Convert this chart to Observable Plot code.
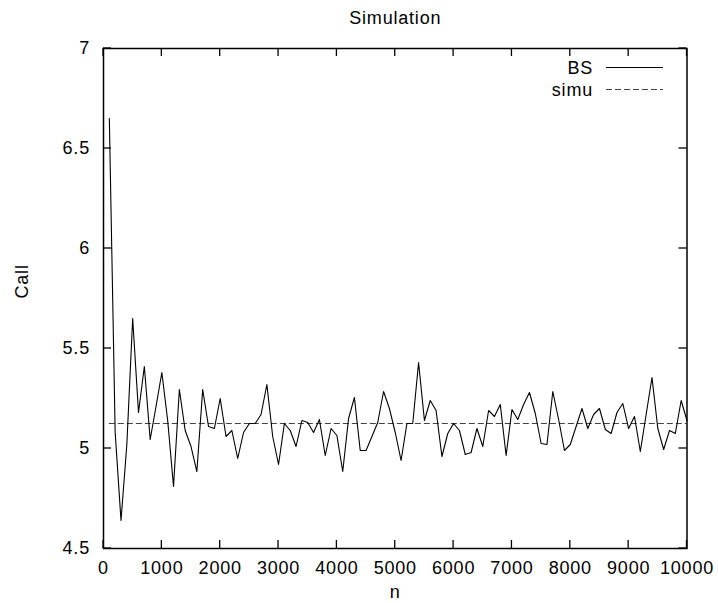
<!DOCTYPE html>
<html>
<head>
<meta charset="utf-8">
<script src="https://cdn.jsdelivr.net/npm/d3@7"></script>
<script src="https://cdn.jsdelivr.net/npm/@observablehq/plot@0.6"></script>
<style>
  html, body { margin: 0; padding: 0; background: white; }
  svg text { letter-spacing: 0.8px; }
</style>
</head>
<body>
<div id="chart"></div>
<script>
const titleText = "Simulation";
const xLabel = "n";
const yLabel = "Call";
const seriesNames = ["BS", "simu"];

const nValues = [
  100, 200, 300, 400, 500, 600, 700, 800, 900, 1000,
  1100, 1200, 1300, 1400, 1500, 1600, 1700, 1800, 1900, 2000,
  2100, 2200, 2300, 2400, 2500, 2600, 2700, 2800, 2900, 3000,
  3100, 3200, 3300, 3400, 3500, 3600, 3700, 3800, 3900, 4000,
  4100, 4200, 4300, 4400, 4500, 4600, 4700, 4800, 4900, 5000,
  5100, 5200, 5300, 5400, 5500, 5600, 5700, 5800, 5900, 6000,
  6100, 6200, 6300, 6400, 6500, 6600, 6700, 6800, 6900, 7000,
  7100, 7200, 7300, 7400, 7500, 7600, 7700, 7800, 7900, 8000,
  8100, 8200, 8300, 8400, 8500, 8600, 8700, 8800, 8900, 9000,
  9100, 9200, 9300, 9400, 9500, 9600, 9700, 9800, 9900, 10000
];

const bsValues = [
  6.65, 5.08, 4.64, 5.02, 5.65, 5.18, 5.41, 5.045, 5.21, 5.38,
  5.14, 4.81, 5.295, 5.09, 5.01, 4.885, 5.295, 5.11, 5.10, 5.25,
  5.06, 5.09, 4.95, 5.08, 5.125, 5.125, 5.17, 5.32, 5.06, 4.92,
  5.125, 5.09, 5.01, 5.14, 5.13, 5.08, 5.145, 4.965, 5.10, 5.065,
  4.885, 5.15, 5.255, 4.99, 4.99, 5.06, 5.13, 5.285, 5.20, 5.08,
  4.94, 5.125, 5.125, 5.43, 5.14, 5.24, 5.19, 4.96, 5.075, 5.125,
  5.09, 4.97, 4.98, 5.10, 5.01, 5.19, 5.16, 5.22, 4.965, 5.195,
  5.145, 5.22, 5.28, 5.175, 5.025, 5.02, 5.285, 5.145, 4.99, 5.02,
  5.11, 5.20, 5.10, 5.17, 5.20, 5.095, 5.075, 5.18, 5.225, 5.10,
  5.16, 4.985, 5.17, 5.355, 5.10, 4.995, 5.09, 5.075, 5.24, 5.14
];

const simuValue = 5.125;

const xTicks = [0, 1000, 2000, 3000, 4000, 5000, 6000, 7000, 8000, 9000, 10000];
const yTicks = [4.5, 5, 5.5, 6, 6.5, 7];

const bsData = nValues.map((n, i) => ({n, v: bsValues[i]}));

const font = "'Liberation Sans', Arial, Helvetica, sans-serif";
const dashStyle = "6,3";
const dashColor = "#444";

const chart = Plot.plot({
  width: 718,
  height: 603,
  marginLeft: 103,
  marginRight: 31.5,
  marginTop: 48,
  marginBottom: 55,
  style: {fontFamily: font, fontSize: "18px", background: "white", color: "black", overflow: "visible"},
  x: {domain: [0, 10000]},
  y: {domain: [4.5, 7]},
  marks: [
    Plot.ruleY([simuValue], {x1: nValues[0], x2: nValues[nValues.length - 1], stroke: dashColor, strokeWidth: 1.2, strokeDasharray: dashStyle}),
    Plot.line(bsData, {x: "n", y: "v", stroke: "black", strokeWidth: 1.1}),
    Plot.axisX({ticks: xTicks, anchor: "bottom", tickSize: 0, tickPadding: 12.5, tickFormat: d => String(d), label: null, fontSize: 18}),
    Plot.axisY({ticks: yTicks, anchor: "left", tickSize: 0, tickPadding: 13.5, tickFormat: d => String(d), label: null, fontSize: 18}),
    Plot.frame({stroke: "black", strokeWidth: 1.5}),
    Plot.text([titleText], {frameAnchor: "top", dy: -30, lineAnchor: "middle", fontSize: 18}),
    Plot.text([xLabel], {frameAnchor: "bottom", dy: 44, lineAnchor: "middle", fontSize: 18}),
    Plot.text([yLabel], {frameAnchor: "left", dx: -81, lineAnchor: "middle", rotate: -90, fontSize: 18})
  ]
});

document.getElementById("chart").appendChild(chart);

const svg = d3.select(chart);
const sx = chart.scale("x");
const sy = chart.scale("y");
const [x0, x1] = sx.range;
const [y0, y1] = sy.range; // y0 bottom, y1 top
const tick = 8;

// inward ticks on all four sides (gnuplot mirror tics)
const tg = svg.append("g").attr("stroke", "black").attr("stroke-width", 1.3);
xTicks.forEach(v => {
  const px = sx.apply(v);
  tg.append("line").attr("x1", px).attr("x2", px).attr("y1", y0).attr("y2", y0 - tick);
  tg.append("line").attr("x1", px).attr("x2", px).attr("y1", y1).attr("y2", y1 + tick);
});
yTicks.forEach(v => {
  const py = sy.apply(v);
  tg.append("line").attr("x1", x0).attr("x2", x0 + tick).attr("y1", py).attr("y2", py);
  tg.append("line").attr("x1", x1).attr("x2", x1 - tick).attr("y1", py).attr("y2", py);
});

// Legend (gnuplot style, top-right inside the frame)
const legend = svg.append("g").attr("font-family", font).attr("font-size", 18);
const rows = [
  {name: seriesNames[0], y: 67.5, dash: null, stroke: "black"},
  {name: seriesNames[1], y: 89.5, dash: dashStyle, stroke: dashColor}
];
rows.forEach(r => {
  legend.append("text")
    .attr("x", 593).attr("y", r.y).attr("dy", "0.35em")
    .attr("text-anchor", "end").attr("fill", "black")
    .text(r.name);
  legend.append("line")
    .attr("x1", 606).attr("x2", 663).attr("y1", r.y).attr("y2", r.y)
    .attr("stroke", r.stroke).attr("stroke-width", 1.2)
    .attr("stroke-dasharray", r.dash);
});
</script>
</body>
</html>
